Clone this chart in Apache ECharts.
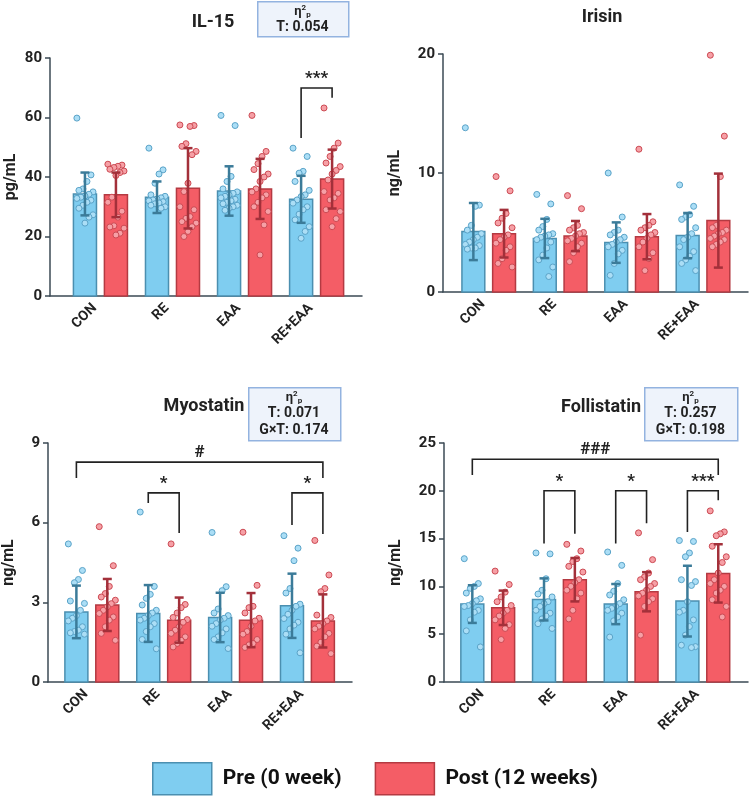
<!DOCTYPE html>
<html>
<head>
<meta charset="utf-8">
<script src="https://cdn.jsdelivr.net/npm/echarts@6/dist/echarts.min.js"></script>
<style>
  html, body { margin: 0; background: #fff; }
  #chart { width: 750px; height: 796px; }
</style>
</head>
<body>
<div id="chart"></div>
<script>
// Groups on the x axis
const groups = ['CON', 'RE', 'EAA', 'RE+EAA'];

// IL-15 (pg/mL)
const il15PreMean = [34.3, 33.2, 35.3, 32.5];
const il15PreSd = [7.2, 5.3, 8.3, 7.9];
const il15PostMean = [34.0, 36.2, 36.0, 39.3];
const il15PostSd = [7.5, 13.5, 10.1, 9.9];
const il15PrePts = [
  [59.8, 40.7, 38.5, 36, 35.5, 35, 34.2, 33.6, 33.2, 32.8, 32.2, 31.5, 30.5, 29.5, 27.3, 26.5, 24.5],
  [49.7, 42.4, 41, 37.9, 34, 33.5, 33, 32.6, 32.3, 32, 31.7, 31.3, 31, 30.5, 30, 29.5],
  [60.7, 57.3, 40.2, 38.5, 36, 35, 34.5, 34, 33.5, 33, 32.5, 32, 31.5, 31, 30.5, 30, 29.5, 28.8],
  [49.7, 46.9, 41.9, 41.3, 38.5, 35.5, 34, 33.4, 32.3, 31.2, 30, 29, 27.5, 25.6, 23.3, 21.7, 19.4]
];
const il15PostPts = [
  [44.3, 44, 43.6, 43.2, 42.6, 42, 41.5, 40.5, 33.2, 31.5, 28.5, 26.5, 23.6, 23.2, 22.8, 21.1, 20.5],
  [57.5, 57.3, 57, 51.2, 50.3, 48.6, 47.5, 37.9, 35.1, 30, 29, 26.7, 26.1, 25, 24.5, 23.3, 21.7, 20],
  [60.7, 48.6, 46.9, 44.5, 42.5, 41, 40, 38.5, 36, 35, 34, 33, 31.5, 30, 28.4, 23.9, 13.8],
  [63.2, 51.4, 49.7, 46.9, 44.7, 43.5, 42.2, 41, 39, 35.1, 34.5, 33, 32.3, 29, 28.4, 26, 23.3]
];

// Irisin (ng/mL)
const irisinPreMean = [5.08, 4.5, 4.15, 4.74];
const irisinPreSd = [2.4, 1.65, 1.7, 1.9];
const irisinPostMean = [4.9, 4.7, 4.65, 6.0];
const irisinPostSd = [2.0, 1.27, 1.9, 3.95];
const irisinPrePts = [
  [13.8, 7.3, 7.2, 5.6, 5.2, 4.9, 4.6, 4.4, 4.2, 4.0, 3.9, 3.7, 3.7, 3.6],
  [8.2, 7.4, 6.1, 5.5, 5.2, 4.9, 4.8, 4.7, 4.6, 4.4, 4.2, 3.7, 3.1, 2.7, 2.1, 1.3],
  [10.0, 6.3, 5.2, 5.0, 4.8, 4.6, 4.4, 4.2, 4.0, 3.8, 3.5, 3.2, 2.4, 1.4],
  [9.0, 7.2, 6.5, 6.3, 6.1, 5.4, 4.9, 4.6, 4.4, 3.8, 3.4, 3.0, 2.7, 2.4, 1.8]
];
const irisinPostPts = [
  [9.7, 8.5, 6.6, 6.2, 5.8, 5.4, 4.8, 4.6, 4.4, 4.1, 3.8, 3.5, 2.8, 2.4, 2.1],
  [8.1, 7.0, 5.6, 5.4, 5.2, 5.0, 4.9, 4.7, 4.5, 4.3, 4.1, 3.8, 3.3, 2.55],
  [12.0, 5.9, 5.6, 5.4, 5.2, 5.0, 4.8, 4.5, 4.2, 3.8, 3.3, 2.8, 1.8],
  [19.9, 13.1, 9.7, 5.6, 5.4, 5.2, 5.0, 4.9, 4.7, 4.5, 4.4, 4.2, 4.0, 3.8]
];

// Myostatin (ng/mL)
const myoPreMean = [2.64, 2.58, 2.43, 2.87];
const myoPreSd = [0.99, 1.07, 0.93, 1.21];
const myoPostMean = [2.9, 2.33, 2.33, 2.3];
const myoPostSd = [0.98, 0.85, 1.02, 1.0];
const myoPrePts = [
  [5.2, 4.2, 3.86, 3.74, 3.05, 2.96, 2.7, 2.5, 2.4, 2.3, 2.08, 1.95, 1.9, 1.85, 1.8],
  [6.4, 3.6, 3.3, 3.15, 2.9, 2.7, 2.6, 2.5, 2.4, 2.33, 2.2, 2.08, 1.9, 1.6, 1.25],
  [5.63, 3.59, 3.44, 2.75, 2.6, 2.5, 2.4, 2.33, 2.2, 2.1, 2.0, 1.85, 1.7, 1.6, 1.26],
  [5.51, 5.04, 4.57, 3.52, 3.35, 2.93, 2.85, 2.7, 2.55, 2.39, 2.25, 2.14, 2.0, 1.8, 1.1]
];
const myoPostPts = [
  [5.85, 4.38, 3.6, 3.33, 3.2, 3.08, 2.95, 2.83, 2.7, 2.58, 2.45, 2.33, 2.08, 1.83, 1.57],
  [5.2, 2.92, 2.8, 2.6, 2.43, 2.35, 2.25, 2.08, 1.95, 1.83, 1.7, 1.57, 1.45, 1.32],
  [5.64, 3.64, 2.85, 2.8, 2.6, 2.4, 2.3, 2.1, 1.9, 1.8, 1.6, 1.45, 1.4, 1.3],
  [5.33, 4.03, 3.52, 3.4, 2.52, 2.43, 2.3, 2.2, 2.1, 2.0, 1.83, 1.7, 1.5, 1.35, 1.07]
];

// Follistatin (ng/mL)
const follPreMean = [8.15, 8.64, 8.15, 8.46];
const follPreSd = [1.97, 2.2, 2.1, 3.7];
const follPostMean = [7.76, 10.7, 9.44, 11.36];
const follPostSd = [1.8, 2.27, 2.05, 3.05];
const follPrePts = [
  [12.9, 10.3, 10.0, 9.8, 9.3, 8.7, 8.5, 8.2, 8.0, 7.9, 7.5, 7.3, 6.5, 5.35, 3.67],
  [13.5, 13.4, 10.8, 9.6, 9.2, 8.9, 8.4, 8.2, 7.9, 7.5, 7.2, 6.9, 6.6, 6.1, 5.6],
  [13.6, 12.2, 10.3, 9.5, 9.1, 8.6, 8.2, 7.9, 7.7, 7.5, 7.2, 6.8, 6.4, 4.7],
  [14.8, 14.7, 13.5, 13.1, 10.7, 10.5, 10.1, 8.4, 7.5, 7.3, 6.5, 5.8, 4.9, 3.85, 3.7, 3.6]
];
const follPostPts = [
  [11.6, 10.2, 9.4, 8.9, 8.4, 8.0, 7.5, 7.2, 6.9, 6.5, 6.0, 5.6, 4.44],
  [14.4, 13.7, 12.9, 12.6, 12.1, 11.5, 10.7, 10.4, 10.0, 9.6, 9.3, 8.7, 7.5, 6.6],
  [15.6, 12.8, 11.4, 11.0, 10.7, 10.3, 10.0, 9.6, 9.3, 9.0, 8.7, 8.4, 7.9, 4.9],
  [17.9, 15.7, 15.5, 15.3, 14.2, 13.1, 12.5, 11.4, 10.7, 10.3, 10.0, 9.6, 9.3, 8.6, 7.9, 6.8]
];

// Significance brackets: [fromGroup, fromSide, toGroup, toSide, topY, leftEndY, rightEndY, label]
const il15Brackets = [[3, -1, 3, 1, 69.9, 53.1, 66.6, '***']];
const irisinBrackets = [];
const myoBrackets = [
  [0, -1, 3, 1, 8.28, 7.68, 7.68, '#'],
  [1, -1, 1, 1, 7.12, 6.74, 5.61, '*'],
  [3, -1, 3, 1, 7.12, 5.91, 5.57, '*']
];
const follBrackets = [
  [0, -1, 3, 1, 23.3, 21.65, 21.65, '###'],
  [1, -1, 1, 1, 20.0, 14.5, 15.5, '*'],
  [2, -1, 2, 1, 20.0, 14.5, 16.6, '*'],
  [3, -1, 3, 1, 20.0, 15.7, 19.0, '***']
];

// Effect size boxes
const il15Eta = ['T: 0.054'];
const myoEta = ['T: 0.071', 'G\u00d7T: 0.174'];
const follEta = ['T: 0.257', 'G\u00d7T: 0.198'];

const PRE = 'Pre (0 week)';
const POST = 'Post (12 weeks)';
const FONT = 'Roboto, "Noto Sans", sans-serif';

const BAR_OFF = 0.215;
const BAR_W = 0.32;
// rotated labels sit a bit left of the group centre
const LABEL_SHIFT = 0.08;

const colors = {
  pre: { fill: '#7fcdf0', border: '#4b8fb0', err: '#3b7b99', dot: '#abdef6', dotBorder: '#5aa3c8' },
  post: { fill: '#f45d66', border: '#b43a42', err: '#a3303a', dot: '#f6a0a6', dotBorder: '#cc4a53' }
};

const panels = [
  { title: 'IL-15', unit: 'pg/mL', max: 80, step: 20, xmin: -0.70, xmax: 3.63,
    grid: { left: 50, top: 58, width: 312, height: 238 }, nameGap: 31,
    titleX: 208, titleY: 8,
    preMean: il15PreMean, preSd: il15PreSd, postMean: il15PostMean, postSd: il15PostSd,
    prePts: il15PrePts, postPts: il15PostPts, brackets: il15Brackets,
    eta: il15Eta, box: { x: 257, y: 1, w: 91, h: 35 } },
  { title: 'Irisin', unit: 'ng/mL', max: 20, step: 10, xmin: -0.64, xmax: 3.63,
    grid: { left: 443, top: 54, width: 305, height: 238 }, nameGap: 40,
    titleX: 597, titleY: 3,
    preMean: irisinPreMean, preSd: irisinPreSd, postMean: irisinPostMean, postSd: irisinPostSd,
    prePts: irisinPrePts, postPts: irisinPostPts, brackets: irisinBrackets,
    eta: null },
  { title: 'Myostatin', unit: 'ng/mL', max: 9, step: 3, xmin: -0.61, xmax: 3.62,
    grid: { left: 48, top: 443, width: 304, height: 239 }, nameGap: 31,
    titleX: 199, titleY: 392,
    preMean: myoPreMean, preSd: myoPreSd, postMean: myoPostMean, postSd: myoPostSd,
    prePts: myoPrePts, postPts: myoPostPts, brackets: myoBrackets,
    eta: myoEta, box: { x: 248, y: 387, w: 92, h: 53 } },
  { title: 'Follistatin', unit: 'ng/mL', max: 25, step: 5, xmin: -0.61, xmax: 3.63,
    grid: { left: 444, top: 443, width: 304, height: 239 }, nameGap: 40,
    titleX: 596, titleY: 393,
    preMean: follPreMean, preSd: follPreSd, postMean: follPostMean, postSd: follPostSd,
    prePts: follPrePts, postPts: follPostPts, brackets: follBrackets,
    eta: follEta, box: { x: 644, y: 387, w: 93, h: 53 } }
];

function renderBar(side, c) {
  return function (params, api) {
    const g = api.value(0);
    const unit = api.size([1, 0])[0];
    const top = api.coord([g, api.value(1)]);
    const base = api.coord([g, 0]);
    const w = unit * BAR_W;
    const cx = top[0] + side * BAR_OFF * unit;
    return {
      type: 'rect',
      shape: { x: cx - w / 2, y: top[1], width: w, height: base[1] - top[1] },
      style: { fill: c.fill, stroke: c.border, lineWidth: 1.5 }
    };
  };
}

function renderErr(side, c) {
  return function (params, api) {
    const g = api.value(0);
    const m = api.value(1), sd = api.value(2);
    const unit = api.size([1, 0])[0];
    const hi = api.coord([g, m + sd]);
    const lo = api.coord([g, Math.max(0, m - sd)]);
    const cx = hi[0] + side * BAR_OFF * unit;
    const cap = 4.5;
    const st = { stroke: c.err, lineWidth: 2.5 };
    return {
      type: 'group',
      children: [
        { type: 'line', shape: { x1: cx, y1: hi[1], x2: cx, y2: lo[1] }, style: st },
        { type: 'line', shape: { x1: cx - cap, y1: hi[1], x2: cx + cap, y2: hi[1] }, style: st },
        { type: 'line', shape: { x1: cx - cap, y1: lo[1], x2: cx + cap, y2: lo[1] }, style: st }
      ]
    };
  };
}

function renderBracket(params, api) {
  const x1 = api.coord([api.value(0) + api.value(1) * BAR_OFF, 0])[0];
  const x2 = api.coord([api.value(2) + api.value(3) * BAR_OFF, 0])[0];
  const yTop = api.coord([0, api.value(4)])[1];
  const yL = api.coord([0, api.value(5)])[1];
  const yR = api.coord([0, api.value(6)])[1];
  const label = api.value(7);
  return {
    type: 'group',
    children: [
      { type: 'polyline', shape: { points: [[x1, yL], [x1, yTop], [x2, yTop], [x2, yR]] },
        style: { stroke: '#222', lineWidth: 1.6, fill: null } },
      { type: 'text', style: { text: label, x: (x1 + x2) / 2, y: yTop - 1, align: 'center',
        verticalAlign: 'bottom', font: 'bold 17px ' + FONT, fill: '#222' } }
    ]
  };
}

// spread the dots sideways inside the bar (layout only)
function jitter(i) {
  return ((i * 7) % 9 - 4) * 0.028;
}

const grids = [], xAxes = [], yAxes = [], series = [], titles = [], graphics = [];

panels.forEach((p, k) => {
  grids.push(Object.assign({ containLabel: false }, p.grid));
  xAxes.push({
    type: 'value', gridIndex: k, min: p.xmin, max: p.xmax,
    splitLine: { show: false },
    axisLine: { show: true, onZero: false, lineStyle: { color: '#3b4a54', width: 1.5 } },
    axisTick: { show: false },
    axisLabel: {
      customValues: groups.map((g, i) => i - LABEL_SHIFT),
      formatter: (v, i) => groups[Math.round(v + LABEL_SHIFT)],
      rotate: 45, align: 'right', verticalAlign: 'middle', margin: 10,
      fontSize: 14, fontWeight: 'bold', color: '#222', fontFamily: FONT
    }
  });
  yAxes.push({
    type: 'value', gridIndex: k, min: 0, max: p.max, interval: p.step,
    name: p.unit, nameLocation: 'middle', nameGap: p.nameGap,
    nameTextStyle: { fontSize: 16, fontWeight: 'bold', color: '#222', fontFamily: FONT },
    splitLine: { show: false },
    axisLine: { show: true, onZero: false, lineStyle: { color: '#3b4a54', width: 1.5 } },
    axisTick: { show: true, length: 5, lineStyle: { color: '#3b4a54', width: 1.5 } },
    axisLabel: { fontSize: 15, fontWeight: 'bold', color: '#222', fontFamily: FONT, margin: 8 }
  });

  [[PRE, -1, colors.pre, p.preMean, p.preSd, p.prePts], [POST, 1, colors.post, p.postMean, p.postSd, p.postPts]]
    .forEach(([name, side, c, mean, sd, pts]) => {
      series.push({
        type: 'custom', name, xAxisIndex: k, yAxisIndex: k, z: 2,
        renderItem: renderBar(side, c),
        itemStyle: { color: c.fill },
        encode: { x: 0, y: 1 },
        data: groups.map((g, i) => [i, mean[i]])
      });
      const dots = [];
      pts.forEach((list, i) => list.forEach((v, j) => dots.push([i + side * BAR_OFF + jitter(j), v])));
      series.push({
        type: 'scatter', name, xAxisIndex: k, yAxisIndex: k, z: 3,
        symbol: 'circle', symbolSize: 6,
        itemStyle: { color: c.dot, borderColor: c.dotBorder, borderWidth: 1, opacity: 1 },
        data: dots
      });
      series.push({
        type: 'custom', name, xAxisIndex: k, yAxisIndex: k, z: 4,
        renderItem: renderErr(side, c),
        itemStyle: { color: c.fill },
        encode: { x: 0, y: 1 },
        data: groups.map((g, i) => [i, mean[i], sd[i]])
      });
    });

  if (p.brackets.length) {
    series.push({
      type: 'custom', name: 'sig' + k, xAxisIndex: k, yAxisIndex: k, z: 5,
      renderItem: renderBracket,
      encode: { x: 0, y: 4 },
      data: p.brackets
    });
  }

  titles.push({
    text: p.title, left: p.titleX, top: p.titleY, textAlign: 'center',
    textStyle: { fontSize: 18, fontWeight: 'bold', color: '#222', fontFamily: FONT }
  });

  if (p.eta) {
    const b = p.box;
    graphics.push({
      type: 'rect', left: b.x, top: b.y,
      shape: { width: b.w, height: b.h },
      style: { fill: '#eef3fb', stroke: '#93b3e0', lineWidth: 1.5 }
    });
    graphics.push({
      type: 'text', x: b.x + b.w / 2, y: b.y + 3,
      style: {
        text: ['{e|\u03b7}{s|2}{p|p}'].concat(p.eta.map(t => '{t|' + t + '}')).join('\n'),
        align: 'center', verticalAlign: 'top',
        rich: {
          e: { fontSize: 13, fontWeight: 'bold', fill: '#222', fontFamily: FONT, lineHeight: 15 },
          s: { fontSize: 8, fontWeight: 'bold', fill: '#222', fontFamily: FONT, verticalAlign: 'top', lineHeight: 15 },
          p: { fontSize: 8, fontWeight: 'bold', fill: '#222', fontFamily: FONT, verticalAlign: 'bottom', lineHeight: 15 },
          t: { fontSize: 14, fontWeight: 'bold', fill: '#222', fontFamily: FONT, lineHeight: 17 }
        }
      }
    });
  }
});

const chart = echarts.init(document.getElementById('chart'));
chart.setOption({
  animation: false,
  backgroundColor: '#fff',
  title: titles,
  grid: grids,
  xAxis: xAxes,
  yAxis: yAxes,
  legend: {
    left: 152, top: 762, padding: 0, itemWidth: 59, itemHeight: 32, itemGap: 33, selectedMode: false,
    data: [
      { name: PRE, icon: 'rect', itemStyle: { color: colors.pre.fill, borderColor: colors.pre.border, borderWidth: 1.5 } },
      { name: POST, icon: 'rect', itemStyle: { color: colors.post.fill, borderColor: colors.post.border, borderWidth: 1.5 } }
    ],
    textStyle: { fontSize: 21, fontWeight: 'bold', color: '#111', fontFamily: FONT, padding: [0, 0, 0, 6] }
  },
  graphic: graphics,
  series
});
</script>
</body>
</html>
